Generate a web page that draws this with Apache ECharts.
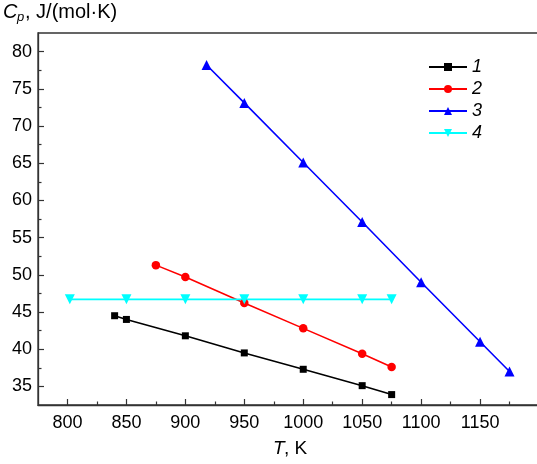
<!DOCTYPE html>
<html>
<head>
<meta charset="utf-8">
<script src="https://cdn.jsdelivr.net/npm/echarts@6/dist/echarts.min.js"></script>
<style>
  html, body { margin: 0; padding: 0; background: #fff; }
  #chart { width: 537px; height: 464px; }
</style>
</head>
<body>
<div id="chart"></div>
<script>
// Heat capacity Cp vs temperature for four data sets
const temps1 = [840, 850, 900, 950, 1000, 1050, 1075];
const cp1    = [44.5, 44.0, 41.8, 39.5, 37.3, 35.1, 33.9];

const temps2 = [875, 900, 950, 1000, 1050, 1075];
const cp2    = [51.3, 49.7, 46.2, 42.8, 39.4, 37.6];

const temps3 = [918, 950, 1000, 1050, 1100, 1150, 1175];
const cp3    = [78.2, 73.1, 65.1, 57.1, 49.0, 41.0, 37.0];

const temps4 = [802, 850, 900, 950, 1000, 1050, 1075];
const cp4    = [46.7, 46.7, 46.7, 46.7, 46.7, 46.7, 46.7];

const seriesNames = ['1', '2', '3', '4'];
const xTickLabels = [800, 850, 900, 950, 1000, 1050, 1100, 1150];
const xMinorTicks = [825, 875, 925, 975, 1025, 1075, 1125, 1175];
const yTickLabels = [35, 40, 45, 50, 55, 60, 65, 70, 75, 80];
const yMinorTicks = [37.5, 42.5, 47.5, 52.5, 57.5, 62.5, 67.5, 72.5, 77.5];

const zip = (xs, ys) => xs.map((x, i) => [x, ys[i]]);

const axisColor = '#333';
const font = 'Liberation Sans, Arial, sans-serif';

const chart = echarts.init(document.getElementById('chart'), null, { renderer: 'canvas' });

const baseX = {
  type: 'value', min: 775, max: 1200, position: 'bottom',
  splitLine: { show: false }
};
const baseY = {
  type: 'value', min: 32.5, max: 82.5, position: 'left',
  splitLine: { show: false }
};

function lineSeries(name, data, color, symbol, size) {
  return {
    name, type: 'line', data,
    symbol, symbolSize: size,
    itemStyle: { color },
    lineStyle: { color, width: 1.6 },
    emphasis: { disabled: true },
    animation: false
  };
}

chart.setOption({
  backgroundColor: '#fff',
  animation: false,
  grid: {
    left: 38, top: 33, right: -2, bottom: 59,
    show: true, borderColor: axisColor, borderWidth: 1.3,
    outerBoundsMode: 'none'
  },
  xAxis: [
    Object.assign({}, baseX, {
      axisLine: { lineStyle: { color: axisColor, width: 1.3 } },
      axisTick: { inside: true, length: 6, customValues: xTickLabels, lineStyle: { color: axisColor, width: 1.2 } },
      axisLabel: {
        customValues: xTickLabels, color: '#000', fontSize: 18, fontFamily: font, margin: 9,
        formatter: v => String(v)
      }
    }),
    Object.assign({}, baseX, {
      axisLine: { show: false },
      axisTick: { inside: true, length: 3.5, customValues: xMinorTicks, lineStyle: { color: axisColor, width: 1.2 } },
      axisLabel: { show: false }
    })
  ],
  yAxis: [
    Object.assign({}, baseY, {
      axisLine: { show: true, lineStyle: { color: axisColor, width: 1.3 } },
      axisTick: { show: true, inside: true, length: 6, customValues: yTickLabels, lineStyle: { color: axisColor, width: 1.2 } },
      axisLabel: { customValues: yTickLabels, color: '#000', fontSize: 18, fontFamily: font, margin: 6, formatter: v => String(v) }
    }),
    Object.assign({}, baseY, {
      axisLine: { show: false },
      axisTick: { show: true, inside: true, length: 3.5, customValues: yMinorTicks, lineStyle: { color: axisColor, width: 1.2 } },
      axisLabel: { show: false }
    })
  ],
  legend: {
    orient: 'vertical',
    left: 428, top: 58, padding: 0,
    itemWidth: 38, itemHeight: 10, itemGap: 4,
    textStyle: { fontSize: 18, lineHeight: 14, fontStyle: 'italic', fontFamily: font, color: '#000' },
    data: seriesNames
  },
  series: [
    lineSeries(seriesNames[0], zip(temps1, cp1), '#000000', 'rect', 7),
    lineSeries(seriesNames[1], zip(temps2, cp2), '#ff0000', 'circle', 8.5),
    lineSeries(seriesNames[2], zip(temps3, cp3), '#0000ff', 'triangle', 10),
    lineSeries(seriesNames[3], zip(temps4, cp4), '#00ffff', 'path://M0,0 L10,0 L5,9 Z', 10)
  ],
  graphic: [
    { type: 'text', left: 3, top: 2, style: { text: 'C', font: 'italic 20px ' + font, fill: '#000' } },
    { type: 'text', left: 17, top: 11, style: { text: 'p', font: 'italic 13px ' + font, fill: '#000' } },
    { type: 'text', left: 25, top: 2, style: { text: ', J/(mol·K)', font: '20px ' + font, fill: '#000' } },
    { type: 'text', left: 273, top: 439, style: { text: 'T', font: 'italic 19px ' + font, fill: '#000' } },
    { type: 'text', left: 284, top: 439, style: { text: ', K', font: '19px ' + font, fill: '#000' } }
  ]
});
</script>
</body>
</html>
